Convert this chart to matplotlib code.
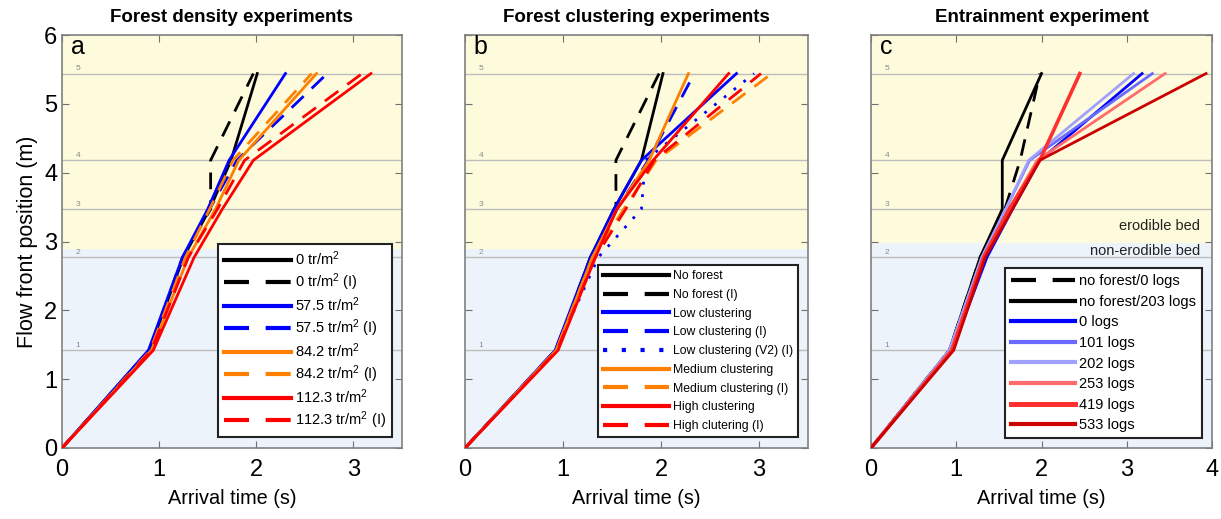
import matplotlib
matplotlib.use("Agg")
import matplotlib.pyplot as plt
import numpy as np

plt.rcParams['font.family'] = ['Liberation Sans', 'DejaVu Sans']
plt.rcParams['mathtext.default'] = 'regular'

# gauge positions along the flume (m) and their labels
gauges = [0, 1.42, 2.77, 3.47, 4.18, 5.44]
gauge_names = ['1', '2', '3', '4', '5']

# arrival times (s) at each gauge
# --- forest density
dens_labels = ['0 tr/m$^2$', '0 tr/m$^2$ (I)', '57.5 tr/m$^2$', '57.5 tr/m$^2$ (I)',
               '84.2 tr/m$^2$', '84.2 tr/m$^2$ (I)', '112.3 tr/m$^2$', '112.3 tr/m$^2$ (I)']
dens_t = [
    [0, 0.90, 1.25, 1.52, 1.74, 2.01],
    [0, 0.90, 1.24, 1.53, 1.53, 1.97],
    [0, 0.89, 1.24, 1.50, 1.72, 2.30],
    [0, 0.90, 1.26, 1.52, 1.80, 2.73],
    [0, 0.92, 1.30, 1.58, 1.82, 2.62],
    [0, 0.91, 1.27, 1.52, 1.76, 2.57],
    [0, 0.94, 1.36, 1.65, 1.97, 3.18],
    [0, 0.92, 1.30, 1.60, 1.88, 3.09],
]
dens_col = ['black', 'black', 'blue', 'blue', '#ff8000', '#ff8000', 'red', 'red']
dens_ls = ['-', '--', '-', '--', '-', '--', '-', '--']

# --- forest clustering
clus_labels = ['No forest', 'No forest (I)', 'Low clustering', 'Low clustering (I)',
               'Low clustering (V2) (I)', 'Medium clustering', 'Medium clustering (I)',
               'High clustering', 'High clutering (I)']
clus_t = [
    [0, 0.93, 1.28, 1.52, 1.80, 2.02],
    [0, 0.93, 1.28, 1.54, 1.54, 1.98],
    [0, 0.92, 1.28, 1.52, 1.80, 2.77],
    [0, 0.92, 1.30, 1.55, 1.87, 2.34],
    [0, 0.93, 1.36, 1.80, 1.84, 2.95],
    [0, 0.93, 1.30, 1.55, 1.88, 2.28],
    [0, 0.93, 1.30, 1.62, 1.95, 3.13],
    [0, 0.95, 1.33, 1.55, 1.92, 2.69],
    [0, 0.94, 1.33, 1.64, 1.93, 3.02],
]
clus_col = ['black', 'black', 'blue', 'blue', 'blue', '#ff8000', '#ff8000', 'red', 'red']
clus_ls = ['-', '--', '-', '--', ':', '-', '--', '-', '--']

# --- entrainment
ent_labels = ['no forest/0 logs', 'no forest/203 logs', '0 logs', '101 logs',
              '202 logs', '253 logs', '419 logs', '533 logs']
ent_t = [
    [0, 0.92, 1.28, 1.57, 1.75, 1.98],
    [0, 0.92, 1.28, 1.54, 1.54, 2.00],
    [0, 0.95, 1.36, 1.66, 1.98, 3.18],
    [0, 0.92, 1.30, 1.58, 1.86, 3.30],
    [0, 0.92, 1.30, 1.58, 1.85, 3.08],
    [0, 0.94, 1.32, 1.62, 1.95, 3.45],
    [0, 0.95, 1.32, 1.62, 1.98, 2.45],
    [0, 0.97, 1.34, 1.66, 1.98, 3.93],
]
ent_col = ['black', 'black', '#0000ff', '#6a6aff', '#a0a0ff', '#ff6a6a', '#ff3030', '#cc0000']
ent_ls = ['--', '-', '-', '-', '-', '-', '-', '-']
ent_lw = [2, 2, 2, 2, 2, 2, 2.6, 2]

YELLOW = '#fdfbdb'
BLUE = '#edf3fb'

fig = plt.figure(figsize=(12.21, 5.19), dpi=100)
pos = [(62, 340), (465, 343), (871, 341)]
axes = []
for left, w in pos:
    ax = fig.add_axes([left / 1221, 71 / 519, w / 1221, 413 / 519])
    axes.append(ax)


def setup(ax, xmax, bed, letter, title):
    ax.set_xlim(0, xmax)
    ax.set_ylim(0, 6)
    ax.axhspan(0, bed, color=BLUE, zorder=0)
    ax.axhspan(bed, 6, color=YELLOW, zorder=0)
    for g, name in zip(gauges[1:], gauge_names):
        ax.axhline(g, color='#bdbdbd', lw=1, zorder=1)
        ax.text(0.04, g + 0.02, name, transform=ax.get_yaxis_transform(),
                fontsize=6, color='#8a8a8a', va='bottom')
    ax.text(0.025, 5.72, letter, transform=ax.get_yaxis_transform(), fontsize=18,
            va='baseline', ha='left')
    ax.set_title(title, fontsize=13.5, fontweight='bold', pad=9)
    ax.set_xticks(range(0, int(xmax) + 1))
    ax.set_yticks(range(0, 7))
    ax.tick_params(direction='in', top=True, right=True, labelsize=17,
                   color='#707070', length=5)
    ax.tick_params(axis='x', pad=8)
    for s in ax.spines.values():
        s.set_color('#808080')
        s.set_linewidth(1.2)
    ax.set_xlabel('Arrival time (s)', fontsize=14.3, labelpad=6)


def draw(ax, times, cols, styles, labels, widths=None):
    for i, t in enumerate(times):
        lw = widths[i] if widths else 2
        ln, = ax.plot(t, gauges, color=cols[i], lw=lw, zorder=3, label=labels[i])
        if styles[i] == '--':
            ln.set_dashes((6, 4))
        elif styles[i] == ':':
            ln.set_dashes((1, 3.5))


ax = axes[0]
setup(ax, 3.5, 2.9, 'a', 'Forest density experiments')
draw(ax, dens_t, dens_col, dens_ls, dens_labels)
ax.set_ylabel('Flow front position (m)', fontsize=15.5, labelpad=4)
leg = ax.legend(loc='lower right', bbox_to_anchor=(0.97, 0.027), fontsize=10.5,
                handlelength=4.6, labelspacing=0.2, borderpad=0.4,
                borderaxespad=0, handletextpad=0.25, fancybox=False, framealpha=1)

ax = axes[1]
setup(ax, 3.5, 2.9, 'b', 'Forest clustering experiments')
ax.tick_params(labelleft=False)
draw(ax, clus_t, clus_col, clus_ls, clus_labels)
leg2 = ax.legend(loc='lower right', bbox_to_anchor=(0.971, 0.027), fontsize=8.8,
                 handlelength=5.4, labelspacing=0.55, borderpad=0.4,
                 borderaxespad=0, handletextpad=0.3, fancybox=False, framealpha=1)

ax = axes[2]
setup(ax, 4, 3.0, 'c', 'Entrainment experiment')
ax.tick_params(labelleft=False)
draw(ax, ent_t, ent_col, ent_ls, ent_labels, ent_lw)
ax.text(0.965, 3.12, 'erodible bed', transform=ax.get_yaxis_transform(),
        ha='right', va='bottom', fontsize=10.5, color='#222222')
ax.text(0.965, 2.86, 'non-erodible bed', transform=ax.get_yaxis_transform(),
        ha='right', va='center', fontsize=10.5, color='#222222')
leg3 = ax.legend(loc='lower right', bbox_to_anchor=(0.971, 0.024), fontsize=10.5,
                 handlelength=4.4, labelspacing=0.45, borderpad=0.4,
                 borderaxespad=0, handletextpad=0.3, fancybox=False, framealpha=1)

for lg in (leg, leg2, leg3):
    fr = lg.get_frame()
    fr.set_edgecolor('#222222')
    fr.set_linewidth(1.5)
    lg.set_zorder(5)
    for h in lg.get_lines():
        h.set_linewidth(h.get_linewidth() + 1)

fig.savefig('out.png', dpi=100)
